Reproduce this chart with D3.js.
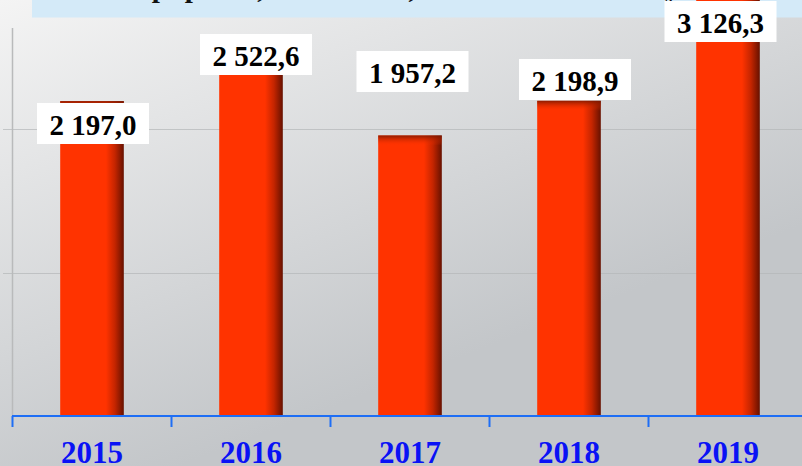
<!DOCTYPE html>
<html>
<head>
<meta charset="utf-8">
<script src="https://cdn.jsdelivr.net/npm/d3@7"></script>
<style>
  html, body { margin: 0; padding: 0; background: #e6e7e8; }
  svg { display: block; }
</style>
</head>
<body>
<svg id="chart"></svg>
<script>
// chart data
const years = ['2015', '2016', '2017', '2018', '2019'];
const values = [2197.0, 2522.6, 1957.2, 2198.9, 3126.3];
const valueLabels = ['2 197,0', '2 522,6', '1 957,2', '2 198,9', '3 126,3'];
const gridValues = [1000, 2000, 3000];
const titleText = 'Объем прироста, млн. тенге, в том числе в казну';

const width = 802, height = 466;
const axisY = 416;

const svg = d3.select('#chart')
  .attr('width', width)
  .attr('height', height);

const defs = svg.append('defs');

// background gradient (light top-left, grey bottom)
const bg = defs.append('linearGradient')
  .attr('id', 'bg')
  .attr('gradientUnits', 'userSpaceOnUse')
  .attr('x1', 0).attr('y1', 0)
  .attr('x2', 180).attr('y2', height);
bg.append('stop').attr('offset', 0).attr('stop-color', '#f4f4f4');
bg.append('stop').attr('offset', 1).attr('stop-color', '#c3c6c9');

// bar fill: red with a dark right edge
const barGrad = defs.append('linearGradient')
  .attr('id', 'barFill')
  .attr('x1', 0).attr('y1', 0)
  .attr('x2', 1).attr('y2', 0);
[[0, '#ff3300'], [0.72, '#ff3300'], [0.86, '#c42500'], [1, '#661100']].forEach(s => {
  barGrad.append('stop').attr('offset', s[0]).attr('stop-color', s[1]);
});

// shading along the top of each bar
const topGrad = defs.append('linearGradient')
  .attr('id', 'barTop')
  .attr('x1', 0).attr('y1', 0)
  .attr('x2', 0).attr('y2', 1);
topGrad.append('stop').attr('offset', 0).attr('stop-color', '#7a1800').attr('stop-opacity', 0.85);
topGrad.append('stop').attr('offset', 1).attr('stop-color', '#ff3300').attr('stop-opacity', 0);

svg.append('rect')
  .attr('width', width)
  .attr('height', height)
  .attr('fill', 'url(#bg)');

// cut-off title strip at the top
svg.append('rect')
  .attr('x', 32).attr('y', 0)
  .attr('width', width - 32).attr('height', 17.5)
  .attr('fill', '#d4eaf8');

svg.append('text')
  .attr('x', 42)
  .attr('y', -3)
  .attr('font-family', '"Liberation Serif", "Times New Roman", serif')
  .attr('font-weight', 'bold')
  .attr('font-size', 29)
  .attr('fill', '#111')
  .text(titleText);

// scales
const x = d3.scaleBand()
  .domain(years)
  .range([12.5, 807.5])
  .paddingInner(0.6)
  .paddingOuter(0.3);

const y = d3.scaleLinear()
  .domain([0, 3000])
  .range([axisY, axisY - 430]);

const gap = (x.step() - x.bandwidth()) / 2;

// gridlines
svg.append('g')
  .selectAll('line')
  .data(gridValues)
  .join('line')
  .attr('x1', 3)
  .attr('x2', width)
  .attr('y1', d => Math.round(y(d)) + 0.5)
  .attr('y2', d => Math.round(y(d)) + 0.5)
  .attr('stroke', '#b4b6b8')
  .attr('stroke-opacity', 0.7);

// vertical axis line
svg.append('line')
  .attr('x1', 12.5).attr('x2', 12.5)
  .attr('y1', 28).attr('y2', axisY)
  .attr('stroke', '#b9babb')
  .attr('stroke-width', 1.5);

// bars
const bars = svg.append('g');
bars.selectAll('rect.bar')
  .data(values)
  .join('rect')
  .attr('class', 'bar')
  .attr('x', (d, i) => x(years[i]))
  .attr('y', d => y(d))
  .attr('width', x.bandwidth())
  .attr('height', d => axisY - y(d))
  .attr('fill', 'url(#barFill)');

bars.selectAll('rect.top')
  .data(values)
  .join('rect')
  .attr('class', 'top')
  .attr('x', (d, i) => x(years[i]))
  .attr('y', d => y(d))
  .attr('width', x.bandwidth())
  .attr('height', 10)
  .attr('fill', 'url(#barTop)');

// x axis: blue line with ticks between the categories
const axisG = svg.append('g');
axisG.append('line')
  .attr('x1', 12).attr('x2', width)
  .attr('y1', axisY).attr('y2', axisY)
  .attr('stroke', '#1e6ef5')
  .attr('stroke-width', 2);

const tickXs = years.map(d => x(d) - gap);
axisG.selectAll('line.tick')
  .data(tickXs)
  .join('line')
  .attr('class', 'tick')
  .attr('x1', d => d).attr('x2', d => d)
  .attr('y1', axisY).attr('y2', axisY + 11)
  .attr('stroke', '#1e6ef5')
  .attr('stroke-width', 2);

axisG.selectAll('text.year')
  .data(years)
  .join('text')
  .attr('class', 'year')
  .attr('x', d => x(d) + x.bandwidth() / 2)
  .attr('y', 463)
  .attr('text-anchor', 'middle')
  .attr('font-family', '"Liberation Serif", "Times New Roman", serif')
  .attr('font-weight', 'bold')
  .attr('font-size', 31)
  .attr('fill', '#0a12f5')
  .text(d => d);

// value labels in white boxes (placed by hand in the original)
const boxW = 112, boxH = 41;
const boxTop = [103, 34, 51, 59, 1];
const boxShift = [1, 5, 2.5, 6, -7.5];

const labels = svg.append('g')
  .selectAll('g')
  .data(values)
  .join('g')
  .attr('transform', (d, i) => {
    const cx = x(years[i]) + x.bandwidth() / 2 + boxShift[i];
    return `translate(${cx},${boxTop[i]})`;
  });

labels.append('rect')
  .attr('x', -boxW / 2)
  .attr('width', boxW)
  .attr('height', boxH)
  .attr('fill', '#ffffff');

labels.append('text')
  .attr('y', 31.5)
  .attr('text-anchor', 'middle')
  .attr('font-family', '"Liberation Serif", "Times New Roman", serif')
  .attr('font-weight', 'bold')
  .attr('font-size', 29)
  .attr('fill', '#000')
  .text((d, i) => valueLabels[i]);
</script>
</body>
</html>
